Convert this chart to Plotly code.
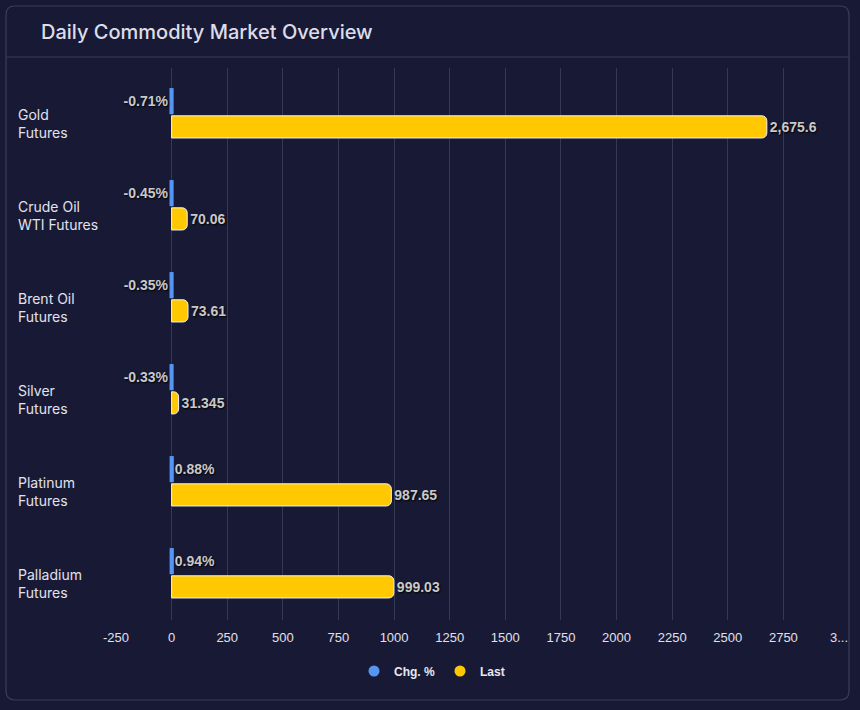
import plotly.graph_objects as go

# data
commodities = ["Gold<br>Futures", "Crude Oil<br>WTI Futures", "Brent Oil<br>Futures",
               "Silver<br>Futures", "Platinum<br>Futures", "Palladium<br>Futures"]
chg_pct = [-0.71, -0.45, -0.35, -0.33, 0.88, 0.94]
last = [2675.6, 70.06, 73.61, 31.345, 987.65, 999.03]
tick_vals = [-250, 0, 250, 500, 750, 1000, 1250, 1500, 1750, 2000, 2250, 2500, 2750, 3000]
tick_text = ["-250", "0", "250", "500", "750", "1000", "1250", "1500", "1750", "2000",
             "2250", "2500", "2750", "3..."]

BG = "#181a35"
GRID = "#363955"
BLUE = "#5595f3"
YELLOW = "#ffc800"

# pixel helpers for the card frame (plot area is 116..839 x 68..620)
L, R, T, B = 116, 839, 68, 620


def px_x(p):
    return (p - L) / (R - L)


def px_y(p):
    return (B - p) / (B - T)


chg_text = [f"{v:.2f}%" for v in chg_pct]
last_text = [f"{v:,}" for v in last]
label_font = dict(family="Liberation Sans, Arial", size=14, color="#c9c9c9",
                  weight="bold", shadow="1px 1px 2px #000000")

fig = go.Figure()
fig.add_trace(go.Bar(
    y=commodities, x=chg_pct, orientation="h", name="Chg. %",
    marker=dict(color=BLUE, line=dict(color=BLUE, width=4)),
    text=chg_text, textposition="outside", textfont=label_font,
    cliponaxis=False, showlegend=False, hoverinfo="x+y"))
fig.add_trace(go.Bar(
    y=commodities, x=last, orientation="h", name="Last",
    marker=dict(color=YELLOW, line=dict(color="#f4f4f4", width=1), cornerradius=5),
    text=last_text, textposition="outside", textfont=label_font,
    cliponaxis=False, showlegend=False, hoverinfo="x+y"))

# circle legend entries
for nm, col in [("Chg. %", BLUE), ("Last", YELLOW)]:
    fig.add_trace(go.Scatter(x=[None], y=[None], mode="markers", name=nm,
                             marker=dict(color=col, size=11, symbol="circle")))

# left-aligned category labels
for c in commodities:
    fig.add_annotation(x=px_x(16), xref="paper", y=c, yref="y", text=c,
                       showarrow=False, xanchor="left", align="left", yshift=-9,
                       font=dict(family="Inter, Noto Sans", size=14, color="#e2e2ec"))

# card frame and header divider
r = 9
x0, x1, y0, y1 = 6, 849, 6, 700
path = (f"M {px_x(x0)},{px_y(y0 + r)} "
        f"L {px_x(x0)},{px_y(y1 - r)} Q {px_x(x0)},{px_y(y1)} {px_x(x0 + r)},{px_y(y1)} "
        f"L {px_x(x1 - r)},{px_y(y1)} Q {px_x(x1)},{px_y(y1)} {px_x(x1)},{px_y(y1 - r)} "
        f"L {px_x(x1)},{px_y(y0 + r)} Q {px_x(x1)},{px_y(y0)} {px_x(x1 - r)},{px_y(y0)} "
        f"L {px_x(x0 + r)},{px_y(y0)} Q {px_x(x0)},{px_y(y0)} {px_x(x0)},{px_y(y0 + r)} Z")
fig.add_shape(type="path", path=path, xref="paper", yref="paper",
              line=dict(color="#393c5c", width=1.2), fillcolor="rgba(0,0,0,0)", layer="below")
fig.add_shape(type="line", xref="paper", yref="paper", x0=px_x(x0), x1=px_x(x1),
              y0=px_y(57), y1=px_y(57), line=dict(color="#393c5c", width=1.2), layer="below")

fig.update_layout(
    width=860, height=710,
    margin=dict(l=L, r=860 - R, t=T, b=710 - B),
    paper_bgcolor=BG, plot_bgcolor=BG,
    barmode="group", bargap=0.44, bargroupgap=0.14,
    title=dict(text="Daily Commodity Market Overview", x=41 / 860,
               xanchor="left", y=1 - 32 / 710, yanchor="middle",
               font=dict(family="Inter, Noto Sans", size=20, color="#dcdde8", weight=500)),
    xaxis=dict(range=[-250, 3000], tickvals=tick_vals, ticktext=tick_text,
               showgrid=True, gridcolor=GRID, gridwidth=1, zeroline=False,
               showline=False, ticks="", ticklabelstandoff=8,
               tickfont=dict(family="Liberation Sans Narrow, Liberation Sans", size=13,
                             color="#e0e0ea")),
    yaxis=dict(autorange=False, range=[5.5, -0.5], showticklabels=False,
               showgrid=False, zeroline=False, showline=False),
    legend=dict(orientation="h", x=px_x(432), xanchor="center", y=px_y(671), yanchor="middle",
                font=dict(family="Liberation Sans Narrow, Liberation Sans", size=12,
                          color="#e8e8f0", weight="bold"),
                itemwidth=30, bgcolor="rgba(0,0,0,0)"),
    font=dict(color="#e0e0ea"),
)

fig.write_html("out.html", config={"displayModeBar": False},
               post_script="document.body.style.margin='0';")
